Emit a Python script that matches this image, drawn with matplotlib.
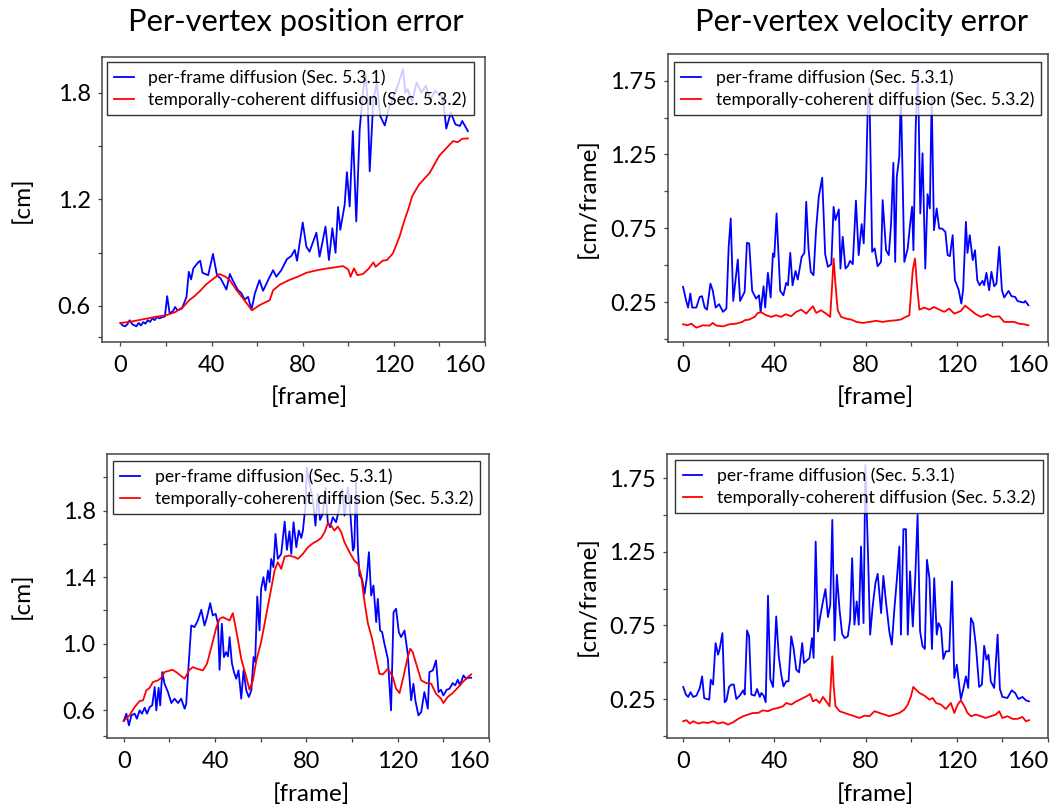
import matplotlib
matplotlib.use("Agg")
import matplotlib.pyplot as plt

plt.rcParams['font.family'] = ['Lato', 'DejaVu Sans']

# ---------------- data ----------------
LABEL_BLUE = "per-frame diffusion (Sec. 5.3.1)"
LABEL_RED = "temporally-coherent diffusion (Sec. 5.3.2)"
TITLE_POS = "Per-vertex position error"
TITLE_VEL = "Per-vertex velocity error"

# top-left: position error
pos_a_blue_x = [0, 1, 2, 3, 4, 5.3, 7, 8, 9, 10, 11, 12, 13, 14, 15, 16, 17, 18.7, 19.5, 20.5, 21.6, 23, 24, 25, 27,
                29, 30, 31, 32, 34, 35, 36, 38.5, 40.6, 42.4, 44, 46.5, 48, 49.4, 51.6, 53, 54.5, 56, 57.5, 59, 61,
                62.6, 64.8, 67, 68.4, 70.6, 73, 75, 76.5, 77.5, 80, 81.6, 83, 86, 87.4, 90, 91.5, 93, 94.4, 95.5,
                96.5, 98.4, 99.4, 100.6, 102, 103.5, 105, 106.4, 107.5, 108.5, 109.4, 111, 112.5, 114, 116, 117.7,
                120, 122, 124, 125, 126, 128, 130, 132, 134, 136, 138, 139, 141, 142, 143, 145, 147, 149, 150, 152.5]
pos_a_blue_y = [0.504, 0.49, 0.485, 0.496, 0.519, 0.496, 0.485, 0.504, 0.49, 0.509, 0.50, 0.52, 0.51, 0.53, 0.52,
                0.538, 0.53, 0.538, 0.54, 0.655, 0.557, 0.57, 0.594, 0.575, 0.585, 0.651, 0.792, 0.749, 0.811,
                0.843, 0.854, 0.786, 0.773, 0.892, 0.771, 0.754, 0.692, 0.779, 0.741, 0.688, 0.673, 0.636, 0.651,
                0.579, 0.670, 0.745, 0.685, 0.745, 0.801, 0.764, 0.801, 0.862, 0.881, 0.915, 0.854, 1.069, 0.933,
                0.905, 1.012, 0.877, 1.046, 0.858, 1.037, 0.899, 1.156, 1.028, 1.169, 1.352, 1.159, 1.583, 1.075,
                1.593, 1.8, 1.9, 1.76, 1.357, 1.762, 1.85, 1.668, 1.615, 1.706, 1.781, 1.85, 1.932, 1.8, 1.819,
                1.75, 1.857, 1.80, 1.838, 1.76, 1.81, 1.80, 1.78, 1.715, 1.597, 1.687, 1.621, 1.612, 1.640, 1.583]
pos_a_red_x = [0, 4, 8, 12, 16, 20, 24, 27.5, 30, 32.5, 35, 37.5, 40, 43.5, 46, 48, 51, 55, 57.7, 61, 65.5, 67, 70,
               74, 78, 81.5, 85, 89, 93, 97.7, 100, 101, 102.5, 104, 106.4, 109, 111, 112, 115, 117, 119.6, 122.5,
               124.7, 126.5, 128, 131, 135.7, 140, 143, 146, 148, 150, 152.5]
pos_a_red_y = [0.504, 0.51, 0.52, 0.53, 0.54, 0.547, 0.565, 0.594, 0.63, 0.655, 0.685, 0.72, 0.745, 0.779, 0.765,
               0.745, 0.688, 0.622, 0.575, 0.604, 0.632, 0.688, 0.72, 0.745, 0.765, 0.786, 0.797, 0.807, 0.815,
               0.824, 0.805, 0.764, 0.811, 0.773, 0.779, 0.81, 0.845, 0.82, 0.854, 0.858, 0.896, 0.99, 1.084, 1.15,
               1.216, 1.282, 1.348, 1.446, 1.487, 1.527, 1.521, 1.54, 1.542]

# top-right: velocity error
vel_a_blue_x = [0, 1.5, 2.2, 3.2, 4, 5.8, 7.3, 8.3, 9.5, 10.5, 12, 13, 14.3, 15.8, 17.5, 19, 20, 20.9, 22, 24, 25,
                27, 28, 29, 30.3, 32, 33.3, 34, 35.3, 36, 37.2, 38.4, 39.4, 40, 41, 42.6, 44, 45.2, 46, 47, 48,
                49.3, 50.3, 52, 53.2, 54, 55, 56, 57.2, 58.3, 59.5, 61, 62.3, 63.5, 65, 66, 66.8, 68.3, 69, 70,
                71.2, 72.2, 73.2, 74.4, 75.8, 77, 78.3, 79.2, 80.2, 81, 81.7, 82.9, 84, 85.3, 86.8, 87.5, 89, 90.2,
                91.2, 92.2, 93, 93.7, 94.8, 95.5, 97, 98.5, 99.5, 100.4, 101, 102, 103, 104, 105, 106.2, 107.2,
                108.2, 109, 110, 111.2, 112.3, 113.5, 115, 116, 117, 118.2, 119.2, 120.8, 122, 122.8, 124, 124.7,
                125.7, 127, 128, 129, 130, 131.3, 132, 133, 134.2, 135.2, 136.4, 137.4, 138.6, 139.8, 140.8, 142.7,
                144, 145.6, 146.6, 148, 149.5, 150, 151.4]
vel_a_blue_y = [0.354, 0.252, 0.214, 0.309, 0.214, 0.214, 0.286, 0.291, 0.214, 0.200, 0.376, 0.331, 0.214, 0.237,
                0.185, 0.207, 0.625, 0.817, 0.259, 0.539, 0.259, 0.320, 0.652, 0.648, 0.327, 0.275, 0.297, 0.185,
                0.358, 0.214, 0.449, 0.282, 0.580, 0.557, 0.851, 0.327, 0.297, 0.381, 0.365, 0.584, 0.365, 0.462,
                0.404, 0.557, 0.584, 0.930, 0.614, 0.456, 0.433, 0.738, 0.964, 1.093, 0.575, 0.490, 0.508, 0.896,
                0.806, 0.878, 0.478, 0.693, 0.478, 0.494, 0.530, 0.508, 0.937, 0.569, 0.779, 0.648, 1.054, 1.596,
                1.70, 0.591, 0.614, 0.494, 0.523, 0.941, 0.602, 0.569, 0.783, 1.194, 0.523, 1.099, 1.235, 1.68,
                0.523, 0.614, 0.772, 0.896, 0.602, 1.438, 1.82, 0.851, 1.258, 0.478, 0.982, 0.885, 1.642, 0.738,
                0.885, 0.749, 0.749, 0.727, 0.569, 0.562, 0.704, 0.399, 0.336, 0.241, 0.336, 0.794, 0.584, 0.704,
                0.535, 0.602, 0.399, 0.365, 0.395, 0.365, 0.449, 0.331, 0.456, 0.358, 0.376, 0.625, 0.331, 0.282,
                0.327, 0.291, 0.286, 0.259, 0.252, 0.248, 0.259, 0.230]
vel_a_red_x = [0, 2, 3.6, 5.8, 8.8, 11.7, 13, 14.6, 17.5, 20.4, 23.3, 26, 27, 29, 31.4, 32.8, 34.3, 36.5, 38.7,
               40.8, 43, 45, 47.4, 49.6, 51.8, 54, 56.9, 58.4, 60.5, 62.7, 64.5, 65.4, 66, 66.8, 67.8, 69.3, 71.5,
               73.7, 76, 78.8, 81.7, 84.6, 87.5, 90.4, 93.4, 95.5, 97.7, 99.2, 100.7, 101.7, 102.5, 103.6, 105.8,
               108, 110, 112.3, 114.5, 116.7, 118.9, 121.8, 123.7, 126.2, 128.4, 130.6, 133.5, 135.7, 138.6, 140.8,
               143, 145.1, 147.3, 149.5, 151.4]
vel_a_red_y = [0.101, 0.094, 0.105, 0.078, 0.094, 0.092, 0.110, 0.092, 0.087, 0.101, 0.105, 0.117, 0.128, 0.133,
               0.151, 0.178, 0.182, 0.162, 0.151, 0.162, 0.151, 0.169, 0.155, 0.185, 0.200, 0.173, 0.223, 0.178,
               0.196, 0.173, 0.151, 0.376, 0.546, 0.376, 0.196, 0.151, 0.139, 0.133, 0.117, 0.110, 0.117, 0.124,
               0.117, 0.124, 0.128, 0.133, 0.151, 0.162, 0.467, 0.546, 0.376, 0.200, 0.214, 0.200, 0.218, 0.200,
               0.185, 0.207, 0.173, 0.191, 0.227, 0.196, 0.169, 0.151, 0.169, 0.151, 0.155, 0.117, 0.117, 0.117,
               0.105, 0.101, 0.094]

# bottom-left: position error
pos_b_blue_x = [0, 1.2, 2.3, 3.4, 4.8, 5.8, 7, 8, 9.2, 10.2, 11.4, 12.5, 13.6, 14.3, 15.3, 16, 16.9, 17.9, 19.4,
                20.9, 22.3, 23.8, 25.2, 26.7, 27.4, 28.4, 29.6, 31, 32.5, 34, 35.4, 36.5, 37.9, 39, 40.3, 41.3, 42,
                43, 43.9, 44.9, 45.7, 46.4, 47.4, 48.3, 49.3, 50.3, 51.5, 52.5, 53.7, 54.8, 55.9, 56.9, 57.6, 58.5,
                59.5, 60.2, 61.2, 62.1, 63.2, 63.9, 64.6, 65.6, 66.5, 67.5, 69, 70.5, 71.5, 72.6, 73.4, 74.4, 75.6,
                76.7, 77.8, 78.5, 79.7, 80.2, 81.4, 82.9, 84, 85, 86, 87.2, 88.4, 89.4, 90.4, 91.6, 93, 94.2, 95.7,
                96.7, 98.2, 99.2, 100.4, 101, 101.8, 102.6, 103.3, 104.4, 105.5, 106.5, 107.4, 108.4, 109.4, 110.6,
                111.3, 112.3, 113.2, 114.2, 115.7, 117.1, 118.2, 119.3, 120.5, 121.5, 123, 124.4, 125.9, 126.9,
                127.8, 129.1, 130.3, 131.7, 133.2, 133.9, 135.4, 136.8, 137.9, 139, 140, 141.5, 142.7, 144.1, 145.2,
                146.3, 147.3, 148.8, 150, 151.1, 152.2]
pos_b_blue_y = [0.536, 0.58, 0.51, 0.57, 0.58, 0.55, 0.60, 0.58, 0.616, 0.58, 0.62, 0.63, 0.74, 0.60, 0.736, 0.63,
                0.83, 0.76, 0.71, 0.644, 0.67, 0.644, 0.67, 0.61, 0.64, 0.864, 1.11, 1.10, 1.14, 1.204, 1.11, 1.16,
                1.244, 1.17, 1.18, 1.12, 0.844, 1.12, 0.92, 0.95, 0.924, 1.04, 0.884, 0.83, 0.79, 0.84, 0.67, 0.84,
                0.72, 0.68, 0.72, 0.92, 0.89, 1.284, 1.08, 1.33, 1.40, 1.32, 1.44, 1.37, 1.51, 1.46, 1.66, 1.51,
                1.54, 1.734, 1.564, 1.676, 1.54, 1.73, 1.58, 1.68, 1.636, 1.68, 1.84, 2.06, 1.96, 1.86, 1.71, 1.90,
                1.744, 1.78, 1.936, 1.73, 1.70, 1.76, 1.73, 1.80, 1.93, 1.77, 1.94, 1.80, 1.56, 1.58, 1.99, 1.56,
                1.41, 1.39, 1.30, 1.40, 1.55, 1.29, 1.35, 1.13, 1.27, 1.08, 1.07, 1.00, 0.91, 0.60, 1.19, 1.21,
                1.07, 1.04, 1.08, 0.94, 0.66, 0.76, 0.656, 0.57, 0.59, 0.71, 0.61, 0.83, 0.84, 0.90, 0.71, 0.724,
                0.69, 0.724, 0.73, 0.764, 0.75, 0.784, 0.75, 0.81, 0.79, 0.796, 0.796]
pos_b_red_x = [0, 2.6, 4.8, 7, 8.5, 9.9, 11.4, 12.8, 15, 16.5, 17.9, 19.4, 21.3, 23, 24.8, 26.7, 28.6, 30.3, 32.1,
               34.7, 36.5, 38.4, 40.6, 42, 43.5, 44.9, 46.4, 47.8, 49.3, 51.5, 53.7, 55.1, 56.6, 58.1, 60.2, 62.4,
               64.6, 66.1, 67.5, 69, 70.5, 72.6, 75, 76.3, 78.5, 80.7, 82.9, 85, 86.5, 88, 89.4, 90.9, 92.3, 93.8,
               95.3, 96.7, 98.9, 101, 102.6, 104, 105.5, 107, 108.8, 110.6, 112, 113.5, 115.7, 117.9, 119.3, 120.8,
               122.5, 124.4, 125.5, 126.6, 128.1, 130.3, 132.5, 134.7, 136.8, 139, 140, 141.9, 144.1, 146.3, 148.5,
               150.7, 152.2]
pos_b_red_y = [0.536, 0.57, 0.62, 0.656, 0.66, 0.72, 0.736, 0.77, 0.78, 0.796, 0.83, 0.836, 0.844, 0.83, 0.81,
               0.79, 0.84, 0.86, 0.85, 0.84, 0.88, 0.98, 1.10, 1.15, 1.16, 1.15, 1.14, 1.184, 1.08, 0.91, 0.80,
               0.724, 0.78, 0.90, 1.01, 1.17, 1.33, 1.44, 1.49, 1.45, 1.524, 1.53, 1.52, 1.51, 1.54, 1.58, 1.604,
               1.62, 1.636, 1.67, 1.724, 1.71, 1.68, 1.704, 1.67, 1.61, 1.55, 1.50, 1.48, 1.41, 1.25, 1.12, 1.03,
               0.91, 0.82, 0.816, 0.85, 0.80, 0.73, 0.704, 0.80, 0.92, 0.97, 0.95, 0.88, 0.78, 0.764, 0.76, 0.70,
               0.67, 0.644, 0.68, 0.704, 0.736, 0.77, 0.80, 0.816]

# bottom-right: velocity error
vel_b_blue_x = [0, 1.2, 2.2, 3.2, 4.4, 5.8, 7.3, 8.3, 9.2, 10.2, 11.4, 12.1, 13.1, 14.2, 15.3, 16, 17.2, 18.2, 19,
                20.1, 21.2, 22.2, 23.3, 24.8, 26.3, 27, 28, 28.9, 29.9, 31.4, 32.4, 33.6, 34.3, 35.3, 36.2, 37.2,
                38.2, 39.4, 40.8, 41.9, 43, 44, 45.2, 46.2, 47.4, 48.4, 49.6, 50.8, 52.2, 53, 54.3, 55.4, 56.5,
                57.2, 58.1, 59.1, 60.1, 61.3, 62.4, 63.5, 64.5, 65.4, 66.4, 67.4, 68.6, 69.7, 70.8, 72.2, 73.2,
                74.1, 75.1, 76.1, 77, 78, 79.1, 79.9, 81, 82, 83.1, 84.3, 85.3, 86.8, 87.8, 89, 90.4, 91.5, 92.6,
                93.7, 94.8, 95.5, 96.6, 97.7, 98.5, 99.5, 100.7, 101.8, 102.8, 103.9, 105, 106, 106.9, 108, 109.1,
                110.1, 111.2, 112, 113.1, 114.1, 115.2, 116.7, 117.9, 118.9, 120, 121.1, 121.8, 122.8, 124, 125,
                126.2, 127.2, 128.4, 129.8, 131, 132, 133, 133.9, 134.9, 136.4, 137.9, 138.9, 140, 142.2, 144.1,
                145.6, 147, 148.8, 150.3, 151.7]
vel_b_blue_y = [0.332, 0.280, 0.264, 0.296, 0.264, 0.273, 0.325, 0.404, 0.257, 0.250, 0.246, 0.381, 0.348, 0.630,
                0.551, 0.590, 0.698, 0.228, 0.241, 0.332, 0.348, 0.348, 0.250, 0.273, 0.309, 0.280, 0.716, 0.676,
                0.280, 0.273, 0.318, 0.264, 0.291, 0.273, 0.228, 0.952, 0.386, 0.332, 0.811, 0.544, 0.415, 0.336,
                0.370, 0.370, 0.676, 0.596, 0.449, 0.431, 0.630, 0.495, 0.513, 0.529, 0.664, 0.529, 1.320, 0.709,
                0.811, 0.913, 0.997, 0.807, 0.890, 1.467, 0.648, 1.094, 0.852, 0.694, 0.664, 0.676, 0.789, 1.207,
                0.755, 0.913, 0.755, 1.286, 0.766, 1.84, 1.264, 0.687, 0.879, 1.037, 1.101, 0.834, 1.087, 0.902,
                0.709, 0.619, 0.857, 1.060, 1.286, 0.687, 1.404, 1.404, 0.687, 1.117, 0.743, 1.083, 1.501, 0.709,
                0.608, 0.590, 1.196, 1.071, 0.590, 1.071, 0.687, 0.766, 0.732, 0.522, 0.574, 0.574, 1.049, 0.393,
                0.483, 0.336, 0.250, 0.314, 0.404, 0.325, 0.800, 0.766, 0.608, 0.332, 0.348, 0.612, 0.517, 0.551,
                0.370, 0.325, 0.687, 0.318, 0.264, 0.257, 0.309, 0.291, 0.250, 0.264, 0.241, 0.234]
vel_b_red_x = [0, 1.5, 2.9, 4.4, 6.6, 8.8, 10.9, 13.1, 15.3, 17.5, 19.7, 21.9, 24.1, 26.3, 28.4, 30.6, 32.8, 35,
               37.2, 39.4, 41.6, 43.8, 45.2, 47.4, 49.6, 51.8, 54, 55.7, 56.9, 58.4, 59.8, 61.3, 62.7, 64.2, 65.4,
               66, 66.8, 68.6, 70.8, 72.9, 75.1, 77.3, 79.5, 81.7, 83.9, 86.1, 88.3, 90.4, 92.6, 94.8, 97, 98.5,
               99.9, 100.9, 102.1, 103.6, 105.8, 108, 109.4, 110.9, 113.1, 115.2, 117.4, 118.9, 120.4, 121.8, 123.3,
               124.7, 126.2, 128.4, 130.6, 132.7, 134.9, 137.1, 138.6, 140, 142.2, 144.4, 146.6, 148.8, 150.3, 151.7]
vel_b_red_y = [0.099, 0.106, 0.083, 0.099, 0.083, 0.092, 0.087, 0.099, 0.083, 0.092, 0.076, 0.092, 0.115, 0.133,
               0.144, 0.155, 0.155, 0.173, 0.167, 0.182, 0.189, 0.201, 0.223, 0.212, 0.234, 0.250, 0.268, 0.284,
               0.234, 0.246, 0.223, 0.264, 0.234, 0.201, 0.540, 0.336, 0.201, 0.167, 0.155, 0.144, 0.133, 0.121,
               0.137, 0.133, 0.167, 0.155, 0.144, 0.133, 0.144, 0.155, 0.178, 0.212, 0.268, 0.332, 0.314, 0.291,
               0.273, 0.246, 0.257, 0.223, 0.212, 0.182, 0.223, 0.155, 0.212, 0.241, 0.201, 0.155, 0.133, 0.144,
               0.133, 0.121, 0.133, 0.144, 0.167, 0.121, 0.133, 0.115, 0.115, 0.128, 0.099, 0.106]

x_ticks = [0, 20, 40, 60, 80, 100, 120, 140, 160]
x_ticklabels = ["0", "", "40", "", "80", "", "120", "", "160"]

pos_a_yticks = [0.424, 0.6, 0.9, 1.2, 1.5, 1.8]
pos_a_yticklabels = ["", "0.6", "", "1.2", "", "1.8"]
pos_b_yticks = [0.448, 0.6, 0.8, 1.0, 1.2, 1.4, 1.6, 1.8, 2.0]
pos_b_yticklabels = ["", "0.6", "", "1.0", "", "1.4", "", "1.8", ""]
vel_yticks = [0.0, 0.25, 0.5, 0.75, 1.0, 1.25, 1.5, 1.75]
vel_yticklabels = ["", "0.25", "", "0.75", "", "1.25", "", "1.75"]

# ---------------- figure ----------------
W, H = 1056, 809
fig = plt.figure(figsize=(W / 100, H / 100), dpi=100)

def rect(l, r, t, b):
    return [l / W, 1 - b / H, (r - l) / W, (b - t) / H]

SPINE = '#454545'

panels = [
    dict(rect=rect(102, 485, 57, 342), bx=pos_a_blue_x, by=pos_a_blue_y, rx=pos_a_red_x, ry=pos_a_red_y,
         xlim=(-8.1, 160), ylim=(0.397, 2.0), yt=pos_a_yticks, ytl=pos_a_yticklabels, ylabel="[cm]",
         leg=(0.013, 0.982), ylab_x=22, xlab=(309, 397)),
    dict(rect=rect(668, 1048, 54, 342), bx=vel_a_blue_x, by=vel_a_blue_y, rx=vel_a_red_x, ry=vel_a_red_y,
         xlim=(-6.6, 159.7), ylim=(-0.019, 1.93), yt=vel_yticks, ytl=vel_yticklabels, ylabel="[cm/frame]",
         leg=(0.016, 0.972), ylab_x=588, xlab=(875, 397)),
    dict(rect=rect(107, 489, 454, 738), bx=pos_b_blue_x, by=pos_b_blue_y, rx=pos_b_red_x, ry=pos_b_red_y,
         xlim=(-7.3, 159.7), ylim=(0.434, 2.14), yt=pos_b_yticks, ytl=pos_b_yticklabels, ylabel="[cm]",
         leg=(0.016, 0.975), ylab_x=22, xlab=(311, 794)),
    dict(rect=rect(667, 1048, 454, 738), bx=vel_b_blue_x, by=vel_b_blue_y, rx=vel_b_red_x, ry=vel_b_red_y,
         xlim=(-7.1, 159.7), ylim=(-0.015, 1.915), yt=vel_yticks, ytl=vel_yticklabels, ylabel="[cm/frame]",
         leg=(0.022, 0.979), ylab_x=588, xlab=(875, 794)),
]

TICK_FS = 17
LABEL_FS = 17.5
for p in panels:
    ax = fig.add_axes(p['rect'])
    ax.plot(p['bx'], p['by'], color='#0000ff', lw=1.3, label=LABEL_BLUE)
    ax.plot(p['rx'], p['ry'], color='#ff0000', lw=1.3, label=LABEL_RED)
    ax.set_xlim(*p['xlim'])
    ax.set_ylim(*p['ylim'])
    ax.set_xticks(x_ticks)
    ax.set_xticklabels(x_ticklabels)
    ax.get_xticklabels()[-1].set_horizontalalignment('right')
    ax.set_yticks(p['yt'])
    ax.set_yticklabels(p['ytl'])
    for s in ax.spines.values():
        s.set_color(SPINE)
        s.set_linewidth(1.1)
    ax.tick_params(direction='out', length=3.2, width=0.9, color=SPINE, labelsize=TICK_FS,
                   labelcolor='black')
    ax.tick_params(axis='x', pad=6)
    ax.tick_params(axis='y', pad=5)
    ax.set_facecolor('white')

    l, b, w, h = p['rect']
    axl, axr = l * W, (l + w) * W
    axt, axb = (1 - b - h) * H, (1 - b) * H
    ax.set_ylabel(p['ylabel'], fontsize=LABEL_FS, va='center')
    ax.yaxis.set_label_coords((p['ylab_x'] - axl) / (axr - axl), 0.5)
    ax.set_xlabel("[frame]", fontsize=LABEL_FS, va='center')
    ax.xaxis.set_label_coords((p['xlab'][0] - axl) / (axr - axl), (axb - p['xlab'][1]) / (axb - axt))

    leg = ax.legend(loc='upper left', bbox_to_anchor=p['leg'], borderaxespad=0, fontsize=12.6,
                    fancybox=False, edgecolor='black', framealpha=0.8, handlelength=1.1,
                    handletextpad=0.85, borderpad=0.42, labelspacing=0.3)
    leg.get_frame().set_linewidth(1.0)

fig.text(296 / W, 1 - 22 / H, TITLE_POS, ha='center', va='center', fontsize=22.2)
fig.text(862 / W, 1 - 22 / H, TITLE_VEL, ha='center', va='center', fontsize=22.2)

fig.savefig("out.png", dpi=100, facecolor='white')
